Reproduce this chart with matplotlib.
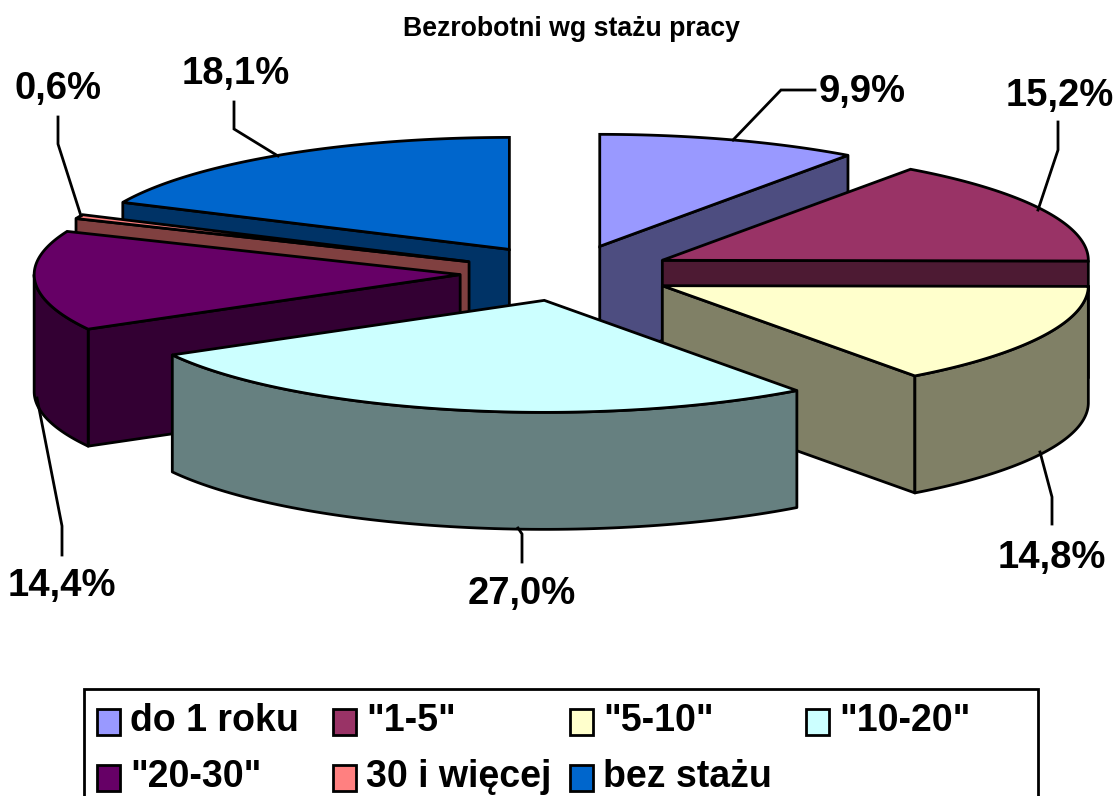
import numpy as np
import matplotlib
matplotlib.use("Agg")
import matplotlib.pyplot as plt
from matplotlib.patches import Polygon, Rectangle

plt.rcParams['font.family'] = ['Liberation Sans', 'DejaVu Sans']

# data
categories = ['do 1 roku', '"1-5"', '"5-10"', '"10-20"', '"20-30"', '30 i więcej', 'bez stażu']
values = [9.9, 15.2, 14.8, 27.0, 14.4, 0.6, 18.1]
value_labels = ['9,9%', '15,2%', '14,8%', '27,0%', '14,4%', '0,6%', '18,1%']
colors = ['#9999FF', '#993366', '#FFFFCC', '#CCFFFF', '#660066', '#FF8080', '#0066CC']
title = 'Bezrobotni wg stażu pracy'

# pie geometry in pixels
cx, cy = 567, 273
rx, ry = 426, 112
ex, ey = 107, 28
depth = 117
line_w = 2.0
# back to front, the same way excel paints it
draw_order = [6, 0, 5, 4, 1, 2, 3]

# label centre, then leader line from the label to the pie
label_pos = [(862, 92), (1060, 96), (1052, 558), (522, 594), (62, 586), (58, 89), (236, 74)]
leaders = [
    [(815, 90), (781, 90), (733, 140)],
    [(1058, 122), (1058, 150), (1038, 210)],
    [(1052, 524), (1052, 497), (1040, 452)],
    [(522, 562), (522, 534), (518, 528)],
    [(62, 555), (62, 526), (37, 398)],
    [(58, 117), (58, 144), (81, 216)],
    [(234, 102), (234, 129), (278, 156)],
]

fig = plt.figure(figsize=(11.16, 7.96), dpi=100)
ax = fig.add_axes([0, 0, 1, 1])
ax.set_xlim(0, 1116)
ax.set_ylim(796, 0)
ax.axis('off')


def darker(col):
    rgb = np.array(matplotlib.colors.to_rgb(col))
    return tuple(rgb * 0.5)


def pt(apex, deg):
    t = np.radians(deg)
    return apex[0] + rx * np.sin(t), apex[1] - ry * np.cos(t)


def arc(apex, a, b):
    t = np.radians(np.linspace(a, b, 80))
    return np.column_stack((apex[0] + rx * np.sin(t), apex[1] - ry * np.cos(t)))


def poly(pts, col, z, join='miter'):
    ax.add_patch(Polygon(pts, closed=True, facecolor=col, edgecolor='black', lw=line_w,
                         joinstyle=join, zorder=z))


def cut_wall(apex, deg, col, z):
    p = pt(apex, deg)
    poly([apex, p, (p[0], p[1] + depth), (apex[0], apex[1] + depth)], col, z, 'round')


edges = np.concatenate(([0], np.cumsum(values))) / np.sum(values) * 360
z = 1
for i in draw_order:
    a, b = edges[i], edges[i + 1]
    mid = np.radians((a + b) / 2)
    apex = (cx + ex * np.sin(mid), cy - ey * np.cos(mid))
    side = darker(colors[i])
    # flat cut faces, only the ones turned to the viewer
    if np.cos(np.radians(a - 90)) < -1e-6:
        cut_wall(apex, a, side, z)
    if np.cos(np.radians(b + 90)) < -1e-6:
        cut_wall(apex, b, side, z)
    # outer wall, front half of the ellipse only
    lo, hi = max(a, 90), min(b, 270)
    if hi - lo > 1:
        top_edge = arc(apex, lo, hi)
        wall = np.vstack((top_edge, (top_edge + [0, depth])[::-1]))
        poly(wall, side, z, 'round')
    poly(np.vstack(([apex], arc(apex, a, b))), colors[i], z)
    z += 1

for i in range(len(values)):
    xs, ys = zip(*leaders[i])
    ax.plot(xs, ys, color='black', lw=line_w, solid_joinstyle='miter', zorder=20)
    ax.text(label_pos[i][0], label_pos[i][1], value_labels[i], fontsize=27.5, fontweight='bold',
            ha='center', va='center', zorder=21)

ax.text(571, 29, title, fontsize=19.2, fontweight='bold', ha='center', va='center')

# legend box runs off the bottom edge of the picture
ax.add_patch(Rectangle((84, 689), 954, 120, facecolor='white', edgecolor='black', lw=line_w,
                       zorder=30))
col_x = [97, 333, 570, 806]
row_y = [722, 778]
for i, name in enumerate(categories):
    lx = col_x[i % 4]
    ly = row_y[i // 4]
    ax.add_patch(Rectangle((lx, ly - 13), 23, 26, facecolor=colors[i], edgecolor='black',
                           lw=line_w, zorder=31))
    ax.text(lx + 33, ly - 1, name, fontsize=27, fontweight='bold', ha='left', va='center', zorder=31)

fig.savefig('out.png', dpi=100)
